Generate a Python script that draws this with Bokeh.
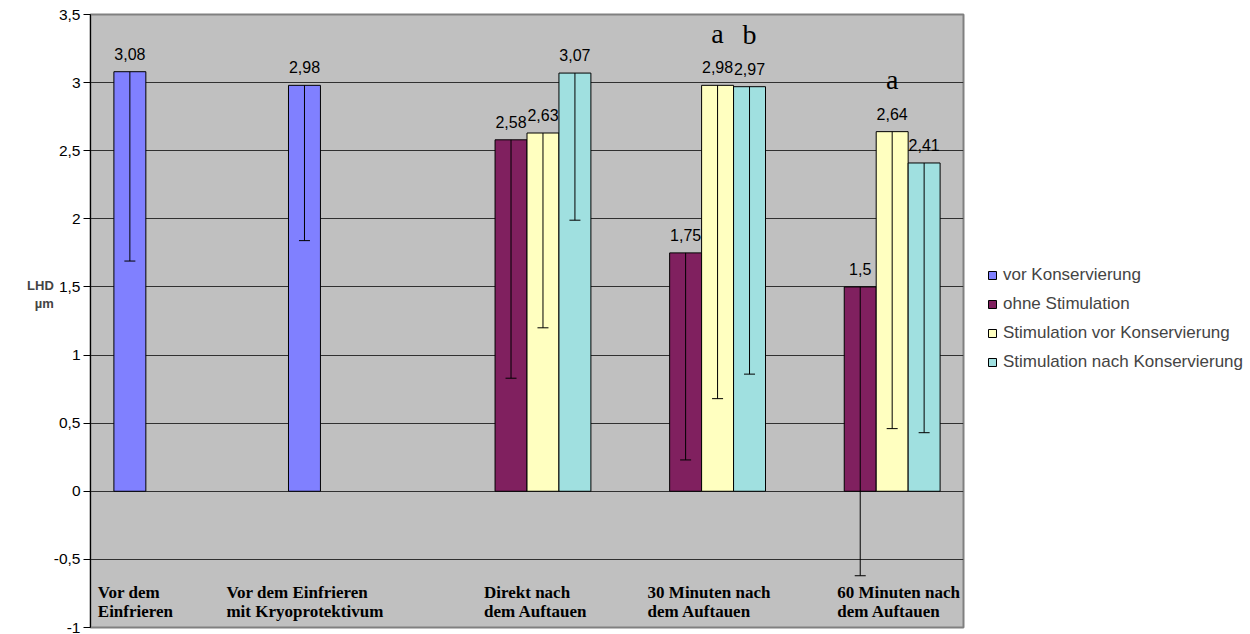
from bokeh.plotting import figure
from bokeh.models import (ColumnDataSource, FactorRange, Range1d, Legend, LegendItem,
                          CustomJSTickFormatter, FixedTicker)
from bokeh.layouts import row
from bokeh.transform import dodge
from bokeh.core.properties import value
from bokeh.embed import file_html
from bokeh.resources import INLINE

# ---------------- data ----------------
categories = ["Vor dem\nEinfrieren",
              "Vor dem Einfrieren\n mit Kryoprotektivum",
              "Direkt nach\ndem Auftauen",
              "30  Minuten nach\ndem Auftauen",
              "60 Minuten nach\ndem Auftauen"]

series_names = ["vor Konservierung", "ohne Stimulation",
                "Stimulation vor Konservierung", "Stimulation nach Konservierung"]

vor_kons_cats = categories[0:2]
vor_kons = [3.08, 2.98]
vor_kons_low = [1.69, 1.84]

group_cats = categories[2:5]
ohne_stim = [2.58, 1.75, 1.50]
ohne_stim_low = [0.83, 0.23, -0.62]
stim_vor = [2.63, 2.98, 2.64]
stim_vor_low = [1.20, 0.68, 0.46]
stim_nach = [3.07, 2.97, 2.41]
stim_nach_low = [1.99, 0.86, 0.43]

# significance letters
annot_stim_vor_cats = [categories[3], categories[4]]
annot_stim_vor_text = ["a", "a"]
annot_stim_vor_y = [stim_vor[1], stim_vor[2]]
annot_stim_nach_cats = [categories[3]]
annot_stim_nach_text = ["b"]
annot_stim_nach_y = [stim_nach[1]]

y_ticks = [-1, -0.5, 0, 0.5, 1, 1.5, 2, 2.5, 3, 3.5]

# ---------------- styles ----------------
colors = ["#8080FF", "#80205F", "#FFFFC0", "#A0E0E0"]
bar_w = 0.183
offsets = [-1.5 * bar_w, -0.5 * bar_w, 0.5 * bar_w, 1.5 * bar_w]
label_x_offsets = [-80, -126, -43, -54, -39]  # pixel offsets of category text blocks
sans = value("Liberation Sans")
serif = value("Liberation Serif")

H = 634

p = figure(width=966, height=H, output_backend="svg", toolbar_location=None,
           x_range=FactorRange(*categories, range_padding=0, factor_padding=0),
           y_range=Range1d(-1, 3.5),
           min_border_left=90, min_border_right=3, min_border_top=14, min_border_bottom=7)

p.background_fill_color = "#C0C0C0"
p.border_fill_color = "white"
p.outline_line_color = "#808080"
p.outline_line_width = 2

p.xaxis.visible = False
p.xgrid.visible = False
p.ygrid.grid_line_color = "#303030"
p.ygrid.grid_line_width = 1
p.yaxis.ticker = FixedTicker(ticks=y_ticks)
p.yaxis.formatter = CustomJSTickFormatter(code="return tick.toString().replace('.', ',');")
p.yaxis.major_label_text_font = "Liberation Sans"
p.yaxis.major_label_text_font_size = "15.5px"
p.yaxis.major_label_text_color = "black"
p.yaxis.major_label_standoff = 3
p.yaxis.major_tick_out = 7
p.yaxis.major_tick_in = 0
p.yaxis.minor_tick_line_color = None
p.yaxis.axis_line_color = "black"
p.yaxis.major_tick_line_color = "black"
p.yaxis.axis_label = "LHD\nµm\n\n\n"
p.yaxis.axis_label_orientation = "horizontal"
p.yaxis.axis_label_text_font = "Liberation Sans"
p.yaxis.axis_label_text_font_style = "bold"
p.yaxis.axis_label_text_font_size = "13px"
p.yaxis.axis_label_standoff = -3

sources = [
    ColumnDataSource(dict(cat=vor_kons_cats, val=vor_kons, low=vor_kons_low,
                          lbl=[f"{v:g}".replace(".", ",") for v in vor_kons])),
    ColumnDataSource(dict(cat=group_cats, val=ohne_stim, low=ohne_stim_low,
                          lbl=[f"{v:g}".replace(".", ",") for v in ohne_stim])),
    ColumnDataSource(dict(cat=group_cats, val=stim_vor, low=stim_vor_low,
                          lbl=[f"{v:g}".replace(".", ",") for v in stim_vor])),
    ColumnDataSource(dict(cat=group_cats, val=stim_nach, low=stim_nach_low,
                          lbl=[f"{v:g}".replace(".", ",") for v in stim_nach])),
]

for i, src in enumerate(sources):
    xd = dodge("cat", offsets[i], range=p.x_range)
    p.vbar(x=xd, top="val", bottom=0, width=bar_w, source=src,
           fill_color=colors[i], line_color="black", line_width=1)

for i, src in enumerate(sources):
    xd = dodge("cat", offsets[i], range=p.x_range)
    p.segment(x0=xd, y0="val", x1=xd, y1="low", source=src, line_color="black", line_width=1)
    p.scatter(x=xd, y="low", marker="dash", size=11, source=src, line_color="black", line_width=1)
    p.text(x=xd, y="val", text="lbl", source=src, text_font=sans, text_font_size="16px",
           text_align="center", text_baseline="alphabetic", y_offset=-18, text_color="black")

# significance letters
a_src = ColumnDataSource(dict(cat=annot_stim_vor_cats, y=annot_stim_vor_y, t=annot_stim_vor_text))
b_src = ColumnDataSource(dict(cat=annot_stim_nach_cats, y=annot_stim_nach_y, t=annot_stim_nach_text))
for src, off in [(a_src, offsets[2]), (b_src, offsets[3])]:
    p.text(x=dodge("cat", off, range=p.x_range), y="y", text="t", source=src,
           text_font=serif, text_font_size="28px", text_align="center",
           text_baseline="alphabetic", y_offset=-52, text_color="black")

# category labels drawn inside the plot area
cat_src = ColumnDataSource(dict(cat=categories, y=[-1] * len(categories), xo=label_x_offsets))
p.text(x="cat", y="y", text="cat", x_offset="xo", y_offset=-26, source=cat_src,
       text_font=serif, text_font_style="bold", text_font_size="17px",
       text_align="left", text_baseline="alphabetic", text_line_height=1.0, text_color="black")

# legend panel (separate figure to the right of the plot area)
lg = figure(width=279, height=H, output_backend="svg", toolbar_location=None,
            x_range=Range1d(0, 1), y_range=Range1d(0, 1),
            min_border=0, min_border_left=0, min_border_right=0,
            min_border_top=0, min_border_bottom=0)
lg.outline_line_color = None
lg.axis.visible = False
lg.grid.visible = False
lg.background_fill_color = "white"
items = []
for i in range(4):
    # swatch-only renderers, kept outside the visible range of this panel
    r = lg.vbar(x=[5], top=[6], bottom=[5], width=0.1,
                fill_color=colors[i], line_color="black", line_width=1)
    items.append(LegendItem(label=series_names[i], renderers=[r]))
legend = Legend(items=items, location=(21, 255), margin=0, padding=7,
                glyph_width=10, glyph_height=10, label_standoff=6, spacing=9,
                label_text_font="Liberation Sans", label_text_font_size="17px",
                background_fill_alpha=0, border_line_color=None)
lg.add_layout(legend, "center")

open("out.html", "w").write(file_html(row(p, lg), INLINE))
